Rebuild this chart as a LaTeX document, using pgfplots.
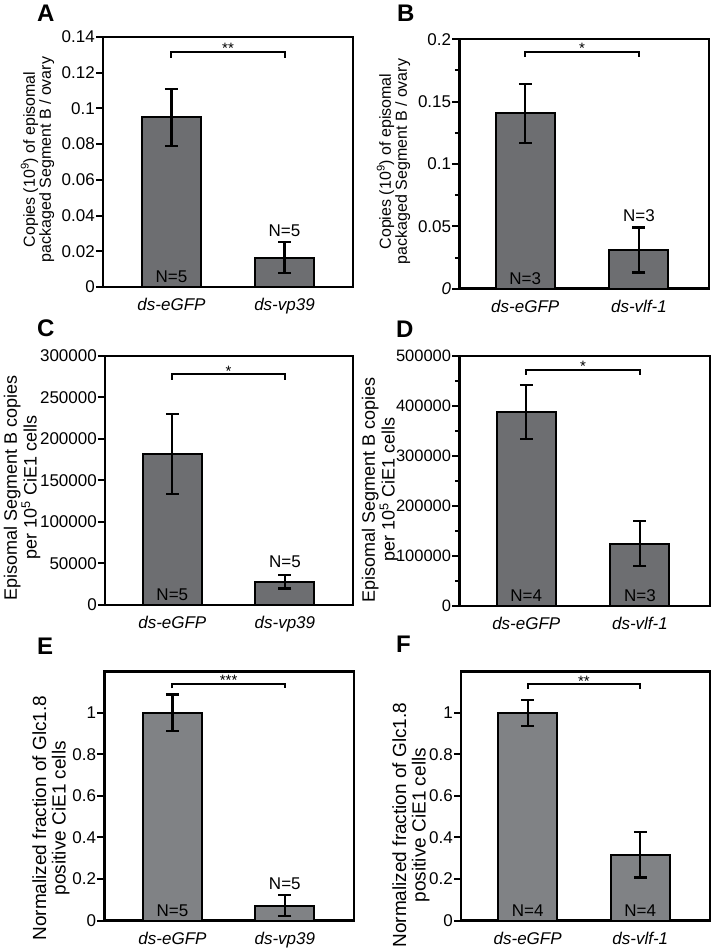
\documentclass[border=0pt]{standalone}
\usepackage{fontspec}
\setmainfont{Liberation Sans}
\usepackage{pgfplots}
\pgfplotsset{compat=1.18}
\definecolor{barA}{RGB}{109,110,113}
\definecolor{barE}{RGB}{128,130,133}
\newcommand{\tf}{\fontsize{17}{20}\selectfont}
\newcommand{\starf}{\fontsize{15}{15}\selectfont}
\tikzset{
  nlab/.style={font=\tf, inner sep=0pt},
  star/.style={font=\starf, inner sep=0pt, anchor=base},
  brk/.style={line width=2pt, black},
  plet/.style={anchor=base west, inner sep=0pt, font=\fontsize{24}{24}\selectfont\bfseries},
}
\pgfplotsset{
  panel/.style={
    scale only axis, anchor=south west,
    ybar, bar width=59pt, ymin=0,
    xtick=data, xtick style={draw=none},
    ytick pos=left, tick align=outside,
    scaled y ticks=false,
    major tick length=7pt, minor tick length=4.5pt,
    every tick/.style={black, line width=2pt},
    axis line style={line width=2.4pt},
    tick label style={font=\tf, text=black},
    yticklabel style={inner sep=1pt},
    xticklabel style={yshift=-1pt},
    ylabel style={anchor=center, align=center},
    clip=false,
  },
  labAB/.style={ylabel style={font=\fontsize{16}{14}\selectfont}},
  labCD/.style={ylabel style={font=\fontsize{18}{14.5}\selectfont}},
  labEF/.style={ylabel style={font=\fontsize{19}{19.5}\selectfont}},
  bars/.style={draw=black, line width=2pt, fill=#1,
    error bars/.cd, y dir=both, y explicit,
    error bar style={line width=2.3pt, black},
    error mark options={rotate=90, mark size=6.5pt, line width=2.3pt, black}},
}
\begin{document}
\begin{tikzpicture}
\useasboundingbox (0pt,0pt) rectangle (716pt,949pt);
% Panel letters
\node[plet] at (37pt,927pt) {A};
\node[plet] at (397pt,927pt) {B};
\node[plet] at (37pt,612pt) {C};
\node[plet] at (396pt,611pt) {D};
\node[plet] at (37pt,294pt) {E};
\node[plet] at (396pt,296pt) {F};

% Panel A
\begin{axis}[panel, labAB, at={(103pt,662pt)}, width=250pt, height=250pt,
  xmin=-0.606, xmax=1.606, ymax=0.14,
  xticklabels={\textit{ds-eGFP},\textit{ds-vp39}},
  ytick={0,0.02,0.04,0.06,0.08,0.1,0.12,0.14},
  yticklabels={0,0.02,0.04,0.06,0.08,0.1,0.12,0.14},
  ylabel={Copies (10\textsuperscript{9}) of episomal\\packaged Segment B / ovary},
  ylabel style={at={(axis description cs:-0.262,0.51)}}]
\addplot[bars=barA] coordinates {(0,0.095) +- (0,0.016) (1,0.0165) +- (0,0.0085)};
\draw[brk] (axis cs:0,0.1285) -- (axis cs:0,0.1318) -- (axis cs:1,0.1318) -- (axis cs:1,0.1285);
\node[star] at (axis cs:0.5,0.1318) [yshift=-2pt] {**};
\node[nlab, anchor=base] at (axis cs:0,0) [yshift=4pt] {N=5};
\node[nlab, anchor=south] at (axis cs:1,0.025) [yshift=5pt] {N=5};
\end{axis}

% Panel B
\begin{axis}[panel, labAB, at={(459.3pt,660.3pt)}, width=249.7pt, height=249.4pt,
  xmin=-0.580, xmax=1.616, ymax=0.2,
  xticklabels={\textit{ds-eGFP},\textit{ds-vlf-1}},
  ytick={0,0.05,0.1,0.15,0.2},
  yticklabels={\textit{0},0.05,0.1,0.15,0.2},
  minor ytick={0.025,0.075,0.125,0.175},
  ylabel={Copies (10\textsuperscript{9}) of episomal\\packaged Segment B / ovary},
  ylabel style={at={(axis description cs:-0.2635,0.51)}}]
\addplot[bars=barA] coordinates {(0,0.1405) +- (0,0.0235) (1,0.031) +- (0,0.018)};
\draw[brk] (axis cs:0,0.1856) -- (axis cs:0,0.190) -- (axis cs:1,0.190) -- (axis cs:1,0.1856);
\node[star] at (axis cs:0.5,0.190) [yshift=-2pt] {*};
\node[nlab, anchor=base] at (axis cs:0,0) [yshift=4pt] {N=3};
\node[nlab, anchor=south] at (axis cs:1,0.0484) [yshift=6pt] {N=3};
\end{axis}

% Panel C
\begin{axis}[panel, labCD, at={(105pt,344pt)}, width=247.7pt, height=249pt,
  xmin=-0.598, xmax=1.602, ymax=300000,
  xticklabels={\textit{ds-eGFP},\textit{ds-vp39}},
  ytick={0,50000,100000,150000,200000,250000,300000},
  yticklabels={0,50000,100000,150000,200000,250000,300000},
  ylabel={Episomal Segment B copies\\per 10\textsuperscript{5} CiE1 cells},
  ylabel style={at={(axis description cs:-0.335,0.471)}}]
\addplot[bars=barA] coordinates {(0,182000) +- (0,48500) (1,28000) +- (0,8000)};
\draw[brk] (axis cs:0,271400) -- (axis cs:0,278000) -- (axis cs:1,278000) -- (axis cs:1,271400);
\node[star] at (axis cs:0.5,278000) [yshift=-2pt] {*};
\node[nlab, anchor=base] at (axis cs:0,0) [yshift=4pt] {N=5};
\node[nlab, anchor=south] at (axis cs:1,36100) [yshift=7pt] {N=5};
\end{axis}

% Panel D
\begin{axis}[panel, labCD, at={(459.3pt,343pt)}, width=250.7pt, height=250pt,
  xmin=-0.589, xmax=1.616, ymax=500000,
  xticklabels={\textit{ds-eGFP},\textit{ds-vlf-1}},
  ytick={0,100000,200000,300000,400000,500000},
  yticklabels={0,100000,200000,300000,400000,500000},
  yticklabel style={font=\fontsize{16.5}{18}\selectfont},
  minor ytick={50000,150000,250000,350000,450000},
  ylabel={Episomal Segment B copies\\per 10\textsuperscript{5} CiE1 cells},
  ylabel style={at={(axis description cs:-0.316,0.465)}}]
\addplot[bars=barA] coordinates {(0,388000) +- (0,53500) (1,124500) +- (0,45000)};
\draw[brk] (axis cs:0,462000) -- (axis cs:0,472000) -- (axis cs:1,472000) -- (axis cs:1,462000);
\node[star] at (axis cs:0.5,472000) [yshift=-2pt] {*};
\node[nlab, anchor=base] at (axis cs:0,0) [yshift=4pt] {N=4};
\node[nlab, anchor=base] at (axis cs:1,0) [yshift=4pt] {N=3};
\end{axis}

% Panel E
\begin{axis}[panel, labEF, at={(104.3pt,28.3pt)}, width=249.7pt, height=249pt,
  xmin=-0.607, xmax=1.616, ymax=1.197,
  xticklabels={\textit{ds-eGFP},\textit{ds-vp39}},
  ytick={0,0.2,0.4,0.6,0.8,1},
  yticklabels={0,0.2,0.4,0.6,0.8,1},
  ylabel={Normalized fraction of Glc1.8\\positive CiE1 cells},
  ylabel style={at={(axis description cs:-0.2135,0.412)}}]
\addplot[bars=barE] coordinates {(0,1.0) +- (0,0.087) (1,0.072) +- (0,0.05)};
\draw[brk] (axis cs:0,1.117) -- (axis cs:0,1.139) -- (axis cs:1,1.139) -- (axis cs:1,1.117);
\node[star] at (axis cs:0.5,1.139) [yshift=-2pt] {***};
\node[nlab, anchor=base] at (axis cs:0,0) [yshift=4pt] {N=5};
\node[nlab, anchor=south] at (axis cs:1,0.1236) [yshift=5pt] {N=5};
\end{axis}

% Panel F
\begin{axis}[panel, labEF, at={(461pt,28.3pt)}, width=249pt, height=249pt,
  xmin=-0.592, xmax=1.619, ymax=1.197,
  xticklabels={\textit{ds-eGFP},\textit{ds-vlf-1}},
  ytick={0,0.2,0.4,0.6,0.8,1},
  yticklabels={0,0.2,0.4,0.6,0.8,1},
  ylabel={Normalized fraction of Glc1.8\\positive CiE1 cells},
  ylabel style={at={(axis description cs:-0.201,0.384)}}]
\addplot[bars=barE] coordinates {(0,0.998) +- (0,0.062) (1,0.318) +- (0,0.11)};
\draw[brk] (axis cs:0,1.114) -- (axis cs:0,1.137) -- (axis cs:1,1.137) -- (axis cs:1,1.114);
\node[star] at (axis cs:0.5,1.137) [yshift=-2pt] {**};
\node[nlab, anchor=base] at (axis cs:0,0) [yshift=4pt] {N=4};
\node[nlab, anchor=base] at (axis cs:1,0) [yshift=4pt] {N=4};
\end{axis}
\end{tikzpicture}
\end{document}
